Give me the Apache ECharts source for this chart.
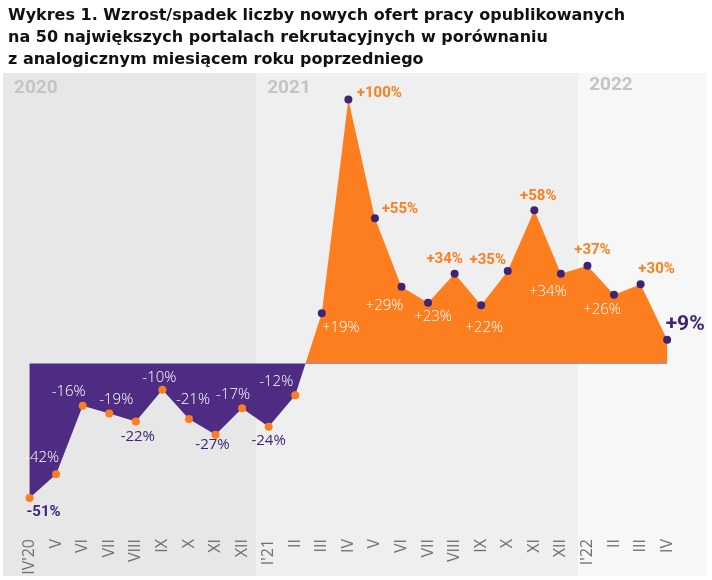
<!DOCTYPE html>
<html>
<head>
<meta charset="utf-8">
<title>Wykres 1</title>
<script src="https://cdn.jsdelivr.net/npm/echarts@6/dist/echarts.min.js"></script>
<style>
  html, body { margin: 0; padding: 0; background: #fff; }
  #chart { width: 712px; height: 580px; }
</style>
</head>
<body>
<div id="chart"></div>
<script>
  'use strict'

  /*-----data-----*/
  var months = ["IV'20", 'V', 'VI', 'VII', 'VIII', 'IX', 'X', 'XI', 'XII',
                "I'21", 'II', 'III', 'IV', 'V', 'VI', 'VII', 'VIII', 'IX', 'X', 'XI', 'XII',
                "I'22", 'II', 'III', 'IV'];
  var change = [-51, -42, -16, -19, -22, -10, -21, -27, -17, -24, -12,
                19, 100, 55, 29, 23, 34, 22, 35, 58, 34, 37, 26, 30, 9];
  var years = ['2020', '2021', '2022'];
  // year bands, in month-index units (band edges fall between months)
  var yearStart = [-1, 8.53, 20.65];
  var yearEnd = [8.53, 20.65, 25.5];

  /*-----label look-----*/
  // e = emphasized (bold), w = white inside the area, p = purple under the area
  var labelKind = ['e', 'w', 'w', 'w', 'p', 'w', 'w', 'p', 'w', 'p', 'w',
                   'w', 'e', 'e', 'w', 'w', 'e', 'w', 'e', 'e', 'w', 'e', 'w', 'e', 'big'];
  var labelOffset = [[14, 14], [-14, -17], [-14, -14], [7, -14], [2, 15], [-3, -12], [4, -19],
                     [-3, 10], [-9, -14], [0, 14], [-19, -13], [19, 14], [31, -6], [25, -9],
                     [-17, 19], [5, 14], [-10, -14], [3, 22], [-20, -11], [4, -14], [-13, 18],
                     [5, -16], [-12, 15], [16, -15], [18, -15]];

  var purple = '#4e2c83';
  var darkPurple = '#3e2472';
  var orange = '#fd7e1e';
  var labelFont = '"Open Sans", sans-serif';
  var boldFont = 'Roboto, "Noto Sans", sans-serif';

  function fmt(v) {
    return (v > 0 ? '+' : '') + v + '%';
  }

  function labelFor(i) {
    var v = change[i];
    var k = labelKind[i];
    var l = {
      show: true,
      position: 'inside',
      align: 'center',
      verticalAlign: 'middle',
      offset: labelOffset[i],
      formatter: fmt(v),
      fontFamily: labelFont,
      fontSize: 15,
      fontWeight: 300,
      opacity: 1
    };
    if (k === 'w') {
      l.color = '#ffffff';
    } else if (k === 'p') {
      l.color = darkPurple;
      l.fontWeight = 'normal';
    } else {
      l.fontFamily = boldFont;
      l.fontWeight = 'bold';
      l.color = v < 0 ? darkPurple : orange;
      if (k === 'big') {
        l.fontSize = 21;
        l.color = darkPurple;
      }
    }
    return l;
  }

  var areaData = change.map(function (v, i) { return [i, v]; });
  var dotData = change.map(function (v, i) {
    return { value: [i, v], label: labelFor(i) };
  });

  // area fill: orange above zero, purple below; split point from the data range
  var maxV = Math.max.apply(null, change);
  var minV = Math.min.apply(null, change);
  var zeroAt = maxV / (maxV - minV);
  var areaFill = new echarts.graphic.LinearGradient(0, 0, 0, 1, [
    { offset: 0, color: orange },
    { offset: zeroAt, color: orange },
    { offset: zeroAt, color: purple },
    { offset: 1, color: purple }
  ]);

  var bandColors = ['#e7e7e7', '#efefef', '#f7f7f7'];
  var bandOffsets = [[11, 6], [11, 6], [11, 3]];
  var bands = years.map(function (y, i) {
    return [
      {
        xAxis: yearStart[i],
        name: y,
        itemStyle: { color: bandColors[i] },
        label: {
          show: true,
          position: 'insideTopLeft',
          distance: 0,
          offset: bandOffsets[i],
          color: '#c4c4c4',
          fontFamily: boldFont,
          fontWeight: 'bold',
          fontSize: 19
        }
      },
      { xAxis: yearEnd[i] }
    ];
  });

  var option = {
    animation: false,
    backgroundColor: '#ffffff',
    title: {
      text: 'Wykres 1. Wzrost/spadek liczby nowych ofert pracy opublikowanych\nna 50 największych portalach rekrutacyjnych w porównaniu\nz analogicznym miesiącem roku poprzedniego',
      left: 3,
      top: 0,
      textStyle: {
        fontFamily: '"DejaVu Sans", sans-serif',
        fontWeight: 'bold',
        fontSize: 16,
        lineHeight: 22,
        color: '#111111'
      }
    },
    grid: {
      left: 3,
      right: 5,
      top: 73,
      bottom: 4,
      containLabel: false,
      outerBoundsMode: 'none'
    },
    xAxis: {
      type: 'value',
      min: -1,
      max: 25.5,
      interval: 1,
      offset: -39,
      z: 10,
      axisLine: { show: false },
      axisTick: { show: false },
      splitLine: { show: false },
      axisLabel: {
        rotate: 90,
        margin: 2,
        color: '#707070',
        fontFamily: labelFont,
        fontWeight: 'normal',
        fontSize: 16,
        formatter: function (v) { return months[v] || ''; }
      }
    },
    yAxis: {
      type: 'value',
      min: -80.5,
      max: 110,
      show: false
    },
    series: [
      {
        name: 'lata',
        type: 'line',
        z: 1,
        data: [],
        markArea: { silent: true, data: bands }
      },
      {
        name: 'zmiana',
        type: 'line',
        z: 2,
        data: areaData,
        symbol: 'none',
        lineStyle: { width: 0, opacity: 0 },
        areaStyle: { opacity: 1, color: areaFill }
      },
      {
        name: 'punkty',
        type: 'scatter',
        z: 3,
        symbolSize: 8,
        data: dotData,
        itemStyle: {
          opacity: 1,
          color: function (p) { return p.value[1] < 0 ? orange : darkPurple; }
        }
      }
    ]
  };

  var chart = echarts.init(document.getElementById('chart'));
  chart.setOption(option);
</script>
</body>
</html>
